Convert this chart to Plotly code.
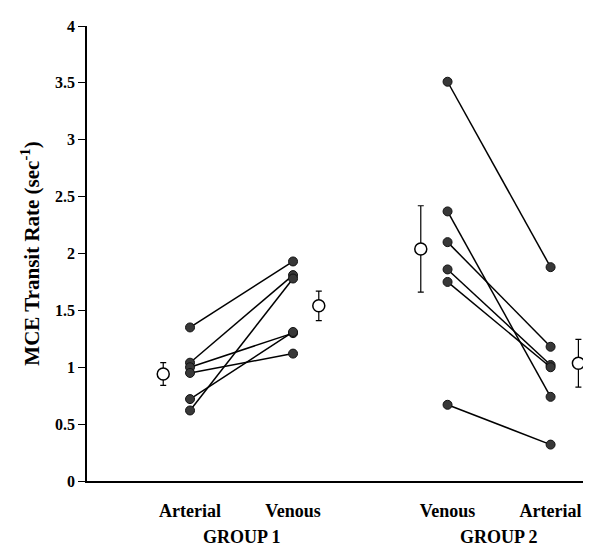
import plotly.graph_objects as go

# ---- data ----
x_labels = ["Arterial", "Venous", "Venous", "Arterial"]
x_pos = [1.0, 2.0, 3.5, 4.5]          # category positions (G1 art, G1 ven, G2 ven, G2 art)
group_labels = ["GROUP 1", "GROUP 2"]
group_centers = [1.5, 4.0]

g1_arterial = [1.35, 1.04, 1.00, 0.95, 0.72, 0.62]
g1_venous   = [1.93, 1.81, 1.30, 1.12, 1.31, 1.78]
g2_venous   = [3.51, 2.37, 2.10, 1.86, 1.75, 0.67]
g2_arterial = [1.88, 0.74, 1.18, 1.02, 1.00, 0.32]

mean_values = [0.94, 1.54, 2.04, 1.035]   # same order as x_pos
mean_errors = [0.10, 0.13, 0.38, 0.21]
mean_offset = [-0.26, 0.25, -0.26, 0.27]

FONT = "Liberation Serif, Times New Roman, serif"

fig = go.Figure()

dot = dict(size=9, color="#383838", line=dict(color="#111111", width=1))
line = dict(color="black", width=1.5)

for a, v in zip(g1_arterial, g1_venous):
    fig.add_trace(go.Scatter(x=[x_pos[0], x_pos[1]], y=[a, v], mode="lines+markers",
                             line=line, marker=dot, showlegend=False, hoverinfo="y"))
for v, a in zip(g2_venous, g2_arterial):
    fig.add_trace(go.Scatter(x=[x_pos[2], x_pos[3]], y=[v, a], mode="lines+markers",
                             line=line, marker=dot, showlegend=False, hoverinfo="y"))

fig.add_trace(go.Scatter(
    x=[p + o for p, o in zip(x_pos, mean_offset)], y=mean_values, mode="markers",
    marker=dict(size=12, color="white", line=dict(color="black", width=1.5)),
    error_y=dict(type="data", array=mean_errors, color="black", thickness=1.2, width=3),
    showlegend=False, hoverinfo="y"))

for txt, cx in zip(group_labels, group_centers):
    fig.add_annotation(x=cx, xref="x", y=-0.124, yref="paper", text=txt, showarrow=False,
                       font=dict(family=FONT, size=18, color="black", weight="bold"),
                       xanchor="center", yanchor="middle", borderpad=0)

fig.update_layout(
    width=591, height=546,
    margin=dict(l=79, r=0, t=18, b=73),
    plot_bgcolor="white", paper_bgcolor="white",
    font=dict(family=FONT, color="black"),
    xaxis=dict(range=[0, 4.97], tickvals=x_pos, ticktext=x_labels,
               showgrid=False, zeroline=False, showline=True, linecolor="black", linewidth=1.5,
               ticks="", ticklabelstandoff=13,
               tickfont=dict(family=FONT, size=18, color="black", weight="bold")),
    yaxis=dict(range=[0, 4], tickvals=[0, 0.5, 1, 1.5, 2, 2.5, 3, 3.5, 4],
               ticktext=["0", "0.5", "1", "1.5", "2", "2.5", "3", "3.5", "4"],
               showgrid=False, zeroline=False, showline=True, linecolor="black", linewidth=1.5,
               ticks="outside", ticklen=7, tickwidth=1.2, tickcolor="black",
               tickfont=dict(family=FONT, size=16, color="black", weight="bold"),
               title=dict(text="MCE Transit Rate (sec<sup>-1</sup>)", standoff=10,
                          font=dict(family=FONT, size=21, color="black", weight="bold"))),
)

fig.write_html("out.html")
